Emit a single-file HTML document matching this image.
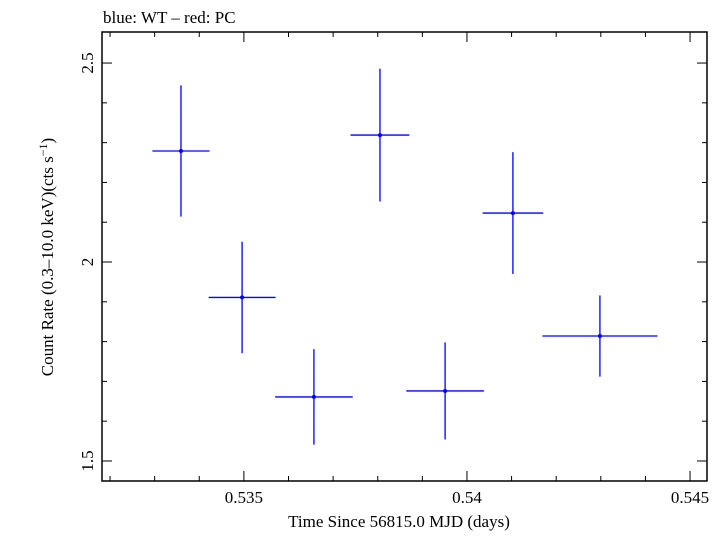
<!DOCTYPE html>
<html><head><meta charset="utf-8"><style>
html,body{margin:0;padding:0;background:#fff;}
svg text{font-family:"Liberation Serif",serif;fill:#000;}
</style></head><body>
<svg id="chart" width="728" height="532" viewBox="0 0 728 532" xmlns="http://www.w3.org/2000/svg">
<text x="103" y="23" font-size="17">blue: WT – red: PC</text>
<rect x="102" y="32" width="605" height="449" fill="none" stroke="#000" stroke-width="1.5"/>
<g id="ticks"></g>
<g id="marks"></g>
<text x="399" y="527" font-size="17" text-anchor="middle">Time Since 56815.0 MJD (days)</text>
<text transform="translate(53,257) rotate(-90)" font-size="17" text-anchor="middle">Count Rate (0.3–10.0 keV)(cts s<tspan dy="-6" font-size="12">−1</tspan><tspan dy="6">)</tspan></text>
</svg>
<script>
const times=[0.53359,0.53496,0.53657,0.53805,0.53951,0.54103,0.54298];
const timeErr=[0.00064,0.00075,0.00087,0.00066,0.00087,0.00068,0.00129];
const rates=[2.279,1.911,1.661,2.319,1.676,2.123,1.814];
const rateErr=[0.165,0.14,0.12,0.167,0.122,0.153,0.102];
const xTickLabels=["0.535","0.54","0.545"];
const yTickLabels=["1.5","2","2.5"];
const X0=102,X1=707,Y0=32,Y1=481;
const xMin=0.53182,xMax=0.54538,yMin=1.4497,yMax=2.578;
const sx=v=>X0+(v-xMin)/(xMax-xMin)*(X1-X0);
const sy=v=>Y1-(v-yMin)/(yMax-yMin)*(Y1-Y0);
const NS="http://www.w3.org/2000/svg";
const ticks=document.getElementById('ticks'),marks=document.getElementById('marks');
function line(p,x1,y1,x2,y2,c,w){const l=document.createElementNS(NS,'line');l.setAttribute('x1',x1);l.setAttribute('y1',y1);l.setAttribute('x2',x2);l.setAttribute('y2',y2);l.setAttribute('stroke',c);l.setAttribute('stroke-width',w);p.appendChild(l);return l;}
// x ticks
for(let i=0;i<=14;i++){const v=0.532+i*0.001;if(v>xMax)break;const x=sx(v);const major=Math.abs((v*1000)%5)<1e-6||Math.abs((v*1000)%5-5)<1e-6;const len=major?10:5;
const a=line(ticks,x,Y1,x,Y1-len,'#000',1);


const b=line(ticks,x,Y0,x,Y0+len,'#000',1);

}
xTickLabels.forEach(s=>{const t=document.createElementNS(NS,'text');t.setAttribute('x',sx(parseFloat(s)));t.setAttribute('y',503);t.setAttribute('font-size','17');t.setAttribute('text-anchor','middle');t.textContent=s;


ticks.appendChild(t);});
// y ticks
for(let i=0;i<=12;i++){const v=1.5+i*0.1;if(v>yMax)break;const y=sy(v);const major=i%5===0;const len=major?10:5;
const a=line(ticks,X0,y,X0+len,y,'#000',1);


const b=line(ticks,X1,y,X1-len,y,'#000',1);

}
yTickLabels.forEach(s=>{const t=document.createElementNS(NS,'text');t.setAttribute('transform','translate(93,'+sy(parseFloat(s))+') rotate(-90)');t.setAttribute('font-size','17');t.setAttribute('text-anchor','middle');t.textContent=s;


ticks.appendChild(t);});
// data points
times.forEach((t,i)=>{const g=document.createElementNS(NS,'g');


line(g,sx(t-timeErr[i]),sy(rates[i]),sx(t+timeErr[i]),sy(rates[i]),'#0000ff',1.3);
line(g,sx(t),sy(rates[i]-rateErr[i]),sx(t),sy(rates[i]+rateErr[i]),'#0000ff',1.3);
const c=document.createElementNS(NS,'circle');c.setAttribute('cx',sx(t));c.setAttribute('cy',sy(rates[i]));c.setAttribute('r',2);c.setAttribute('fill','#0000ff');g.appendChild(c);
marks.appendChild(g);});
</script>
</body></html>
